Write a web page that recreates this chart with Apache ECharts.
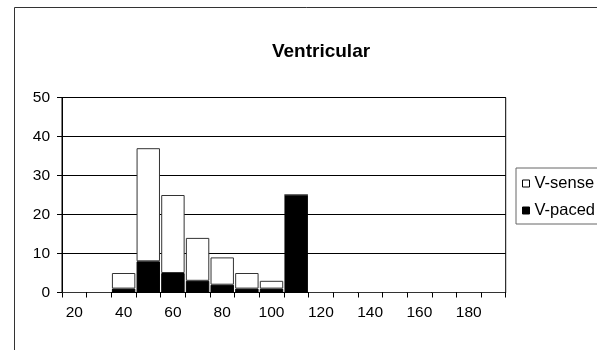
<!DOCTYPE html>
<html>
<head>
<meta charset="utf-8">
<script src="https://cdn.jsdelivr.net/npm/echarts@6/dist/echarts.min.js"></script>
<style>
  html, body { margin: 0; padding: 0; background: #fff; }
  #chart { width: 597px; height: 350px; }
</style>
</head>
<body>
<div id="chart"></div>
<script>
// Heart-rate bins (bpm)
const categories = ['20','30','40','50','60','70','80','90','100','110','120','130','140','150','160','170','180','190'];
// Counts per bin, stacked: paced at the bottom, sensed on top
const vPaced = [0, 0, 1, 8, 5, 3, 2, 1, 1, 25, 0, 0, 0, 0, 0, 0, 0, 0];
const vSense = [0, 0, 4, 29, 20, 11, 7, 4, 2, 0, 0, 0, 0, 0, 0, 0, 0, 0];
const yTicks = { min: 0, max: 50, interval: 10 };

const font = 'Liberation Sans, Arial, sans-serif';
const chart = echarts.init(document.getElementById('chart'), null, { renderer: 'canvas' });

chart.setOption({
  animation: false,
  backgroundColor: '#fff',
  title: {
    text: 'Ventricular',
    left: 316, top: 37, textAlign: 'center',
    textStyle: { fontFamily: font, fontSize: 19, fontWeight: 'bold', color: '#000' }
  },
  graphic: [{
    type: 'rect',
    shape: { x: 14.5, y: 7.5, width: 700, height: 500 },
    style: { fill: 'none', stroke: '#333', lineWidth: 1 },
    silent: true, z: -1
  }],
  legend: {
    orient: 'vertical',
    left: 516, top: 168,
    padding: [7, 80, 5, 6],
    itemGap: 10,
    itemWidth: 7, itemHeight: 7,
    icon: 'rect',
    backgroundColor: '#fff',
    borderColor: '#666', borderWidth: 1, borderRadius: 0,
    textStyle: { fontFamily: font, fontSize: 16.5, color: '#000', padding: [0, 0, 0, 0] },
    data: [
      { name: 'V-sense', itemStyle: { color: '#fff', borderColor: '#000', borderWidth: 1 } },
      { name: 'V-paced', itemStyle: { color: '#000', borderColor: '#000', borderWidth: 1 } }
    ]
  },
  grid: {
    left: 62, right: 91.3, top: 97.5, bottom: 57.5,
    show: true, borderColor: '#000', borderWidth: 1, backgroundColor: '#fff'
  },
  xAxis: {
    type: 'category',
    data: categories,
    axisLine: { lineStyle: { color: '#000', width: 1 } },
    axisTick: { show: true, interval: 0, length: 5, lineStyle: { color: '#000' } },
    axisLabel: { interval: 1, fontFamily: font, fontSize: 15.5, color: '#000', margin: 12 },
    splitLine: { show: false }
  },
  yAxis: {
    type: 'value',
    min: yTicks.min, max: yTicks.max, interval: yTicks.interval,
    axisLine: { show: true, lineStyle: { color: '#000', width: 1 } },
    axisTick: { show: true, length: 5, lineStyle: { color: '#000' } },
    axisLabel: { fontFamily: font, fontSize: 15.5, color: '#000', margin: 12 },
    splitLine: { show: true, lineStyle: { color: '#000', width: 1 } }
  },
  series: [
    {
      name: 'V-paced', type: 'bar', stack: 'v', data: vPaced,
      barCategoryGap: '5%',
      itemStyle: { color: '#000', borderColor: '#000', borderWidth: 1 }
    },
    {
      name: 'V-sense', type: 'bar', stack: 'v', data: vSense,
      barCategoryGap: '5%',
      itemStyle: { color: '#fff', borderColor: '#333', borderWidth: 1 }
    }
  ]
});
</script>
</body>
</html>
